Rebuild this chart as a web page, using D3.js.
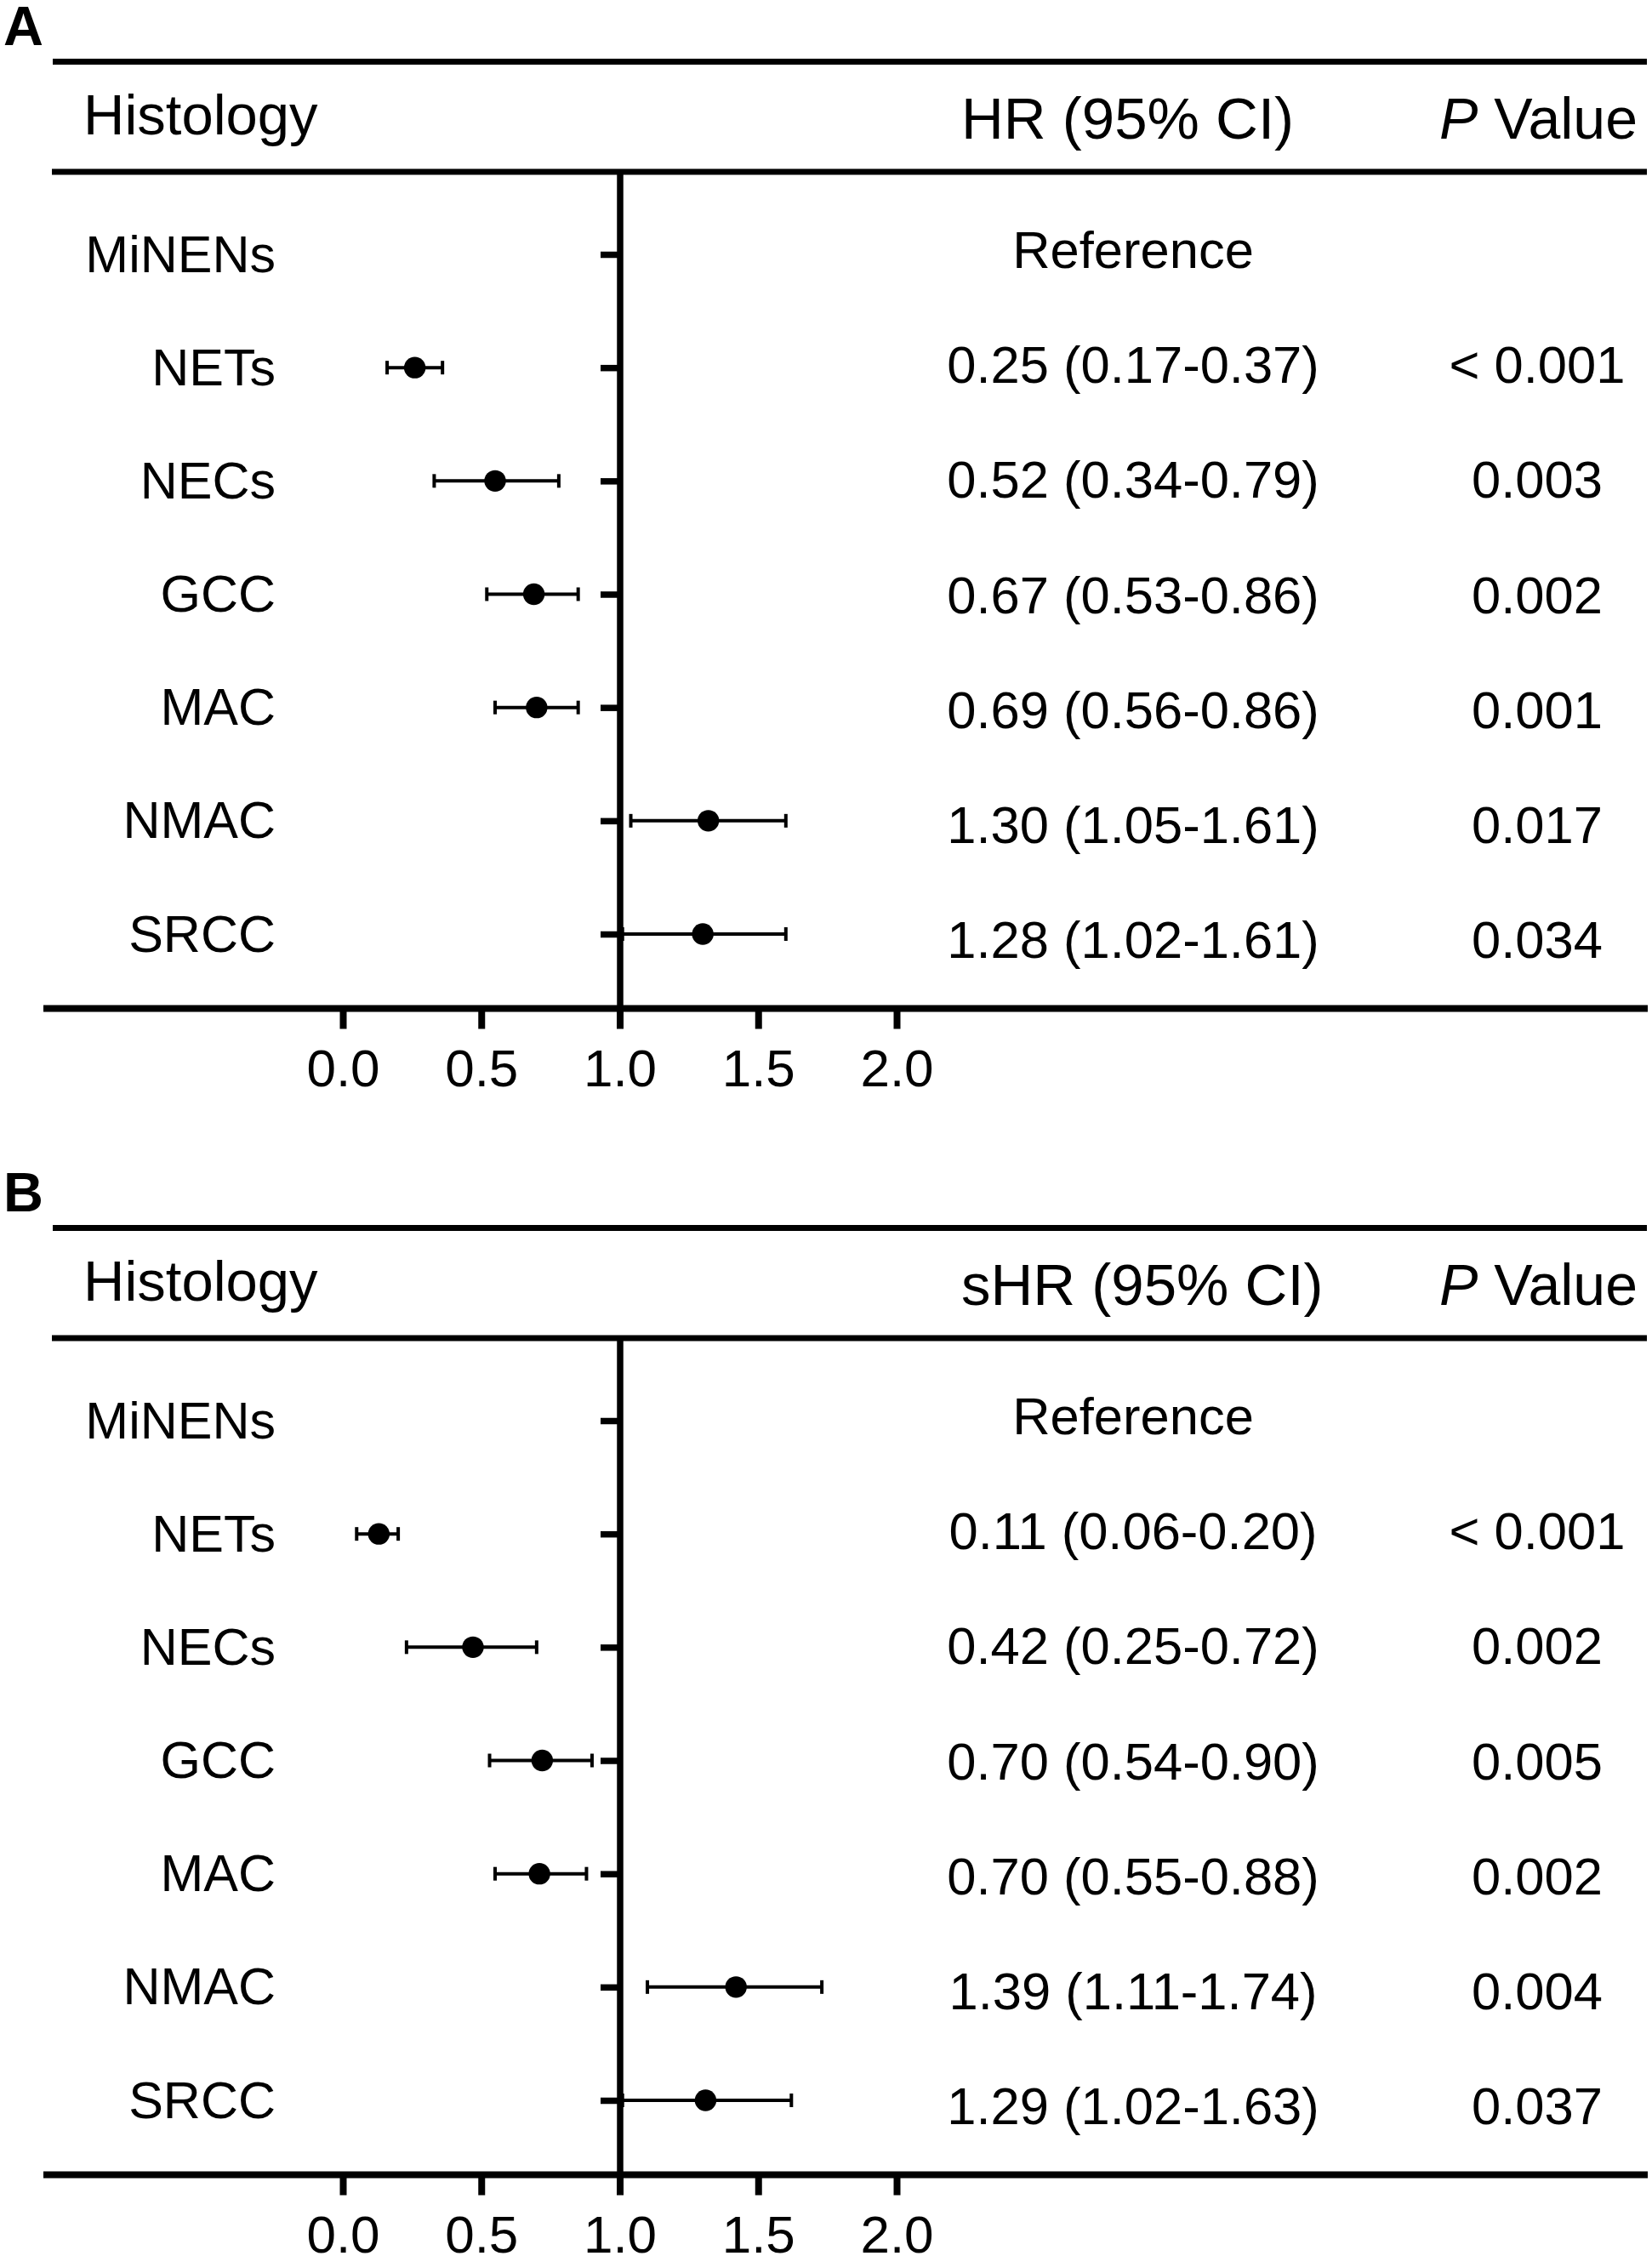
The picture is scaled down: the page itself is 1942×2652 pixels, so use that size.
<!DOCTYPE html>
<html lang="en">
	<head>
		<meta charset="utf-8">
		<title>Forest plot: histology HR and sHR</title>
		<script type="text/javascript" src="https://d3js.org/d3.v7.min.js"></script>
		<style type="text/css">
			body { margin: 0; background: #fff; }
			text { font-family: "Liberation Sans", Arial, Helvetica, sans-serif; fill: #000; }
		</style>
	</head>
	<body>
		<script type="text/javascript">

			//Row labels
			var categories = ["MiNENs", "NETs", "NECs", "GCC", "MAC", "NMAC", "SRCC"];

			//Panel A, plotted positions
			var hrA = [null, 0.26, 0.55, 0.69, 0.70, 1.32, 1.30];
			var loA = [null, 0.16, 0.33, 0.52, 0.55, 1.04, 1.01];
			var hiA = [null, 0.36, 0.78, 0.85, 0.85, 1.60, 1.60];
			var ciTextA = ["Reference", "0.25 (0.17-0.37)", "0.52 (0.34-0.79)", "0.67 (0.53-0.86)",
			               "0.69 (0.56-0.86)", "1.30 (1.05-1.61)", "1.28 (1.02-1.61)"];
			var pTextA = ["", "< 0.001", "0.003", "0.002", "0.001", "0.017", "0.034"];

			//Panel B
			var hrB = [null, 0.13, 0.47, 0.72, 0.71, 1.42, 1.31];
			var loB = [null, 0.05, 0.23, 0.53, 0.55, 1.10, 1.01];
			var hiB = [null, 0.20, 0.70, 0.90, 0.88, 1.73, 1.62];
			var ciTextB = ["Reference", "0.11 (0.06-0.20)", "0.42 (0.25-0.72)", "0.70 (0.54-0.90)",
			               "0.70 (0.55-0.88)", "1.39 (1.11-1.74)", "1.29 (1.02-1.63)"];
			var pTextB = ["", "< 0.001", "0.002", "0.005", "0.002", "0.004", "0.037"];

			//Axis ticks
			var xTicks = [0, 0.5, 1.0, 1.5, 2.0];

			//Width and height
			var w = 1942;
			var h = 2652;

			var svg = d3.select("body")
						.append("svg")
						.attr("width", w)
						.attr("height", h);

			//Shared scales (panel-local coordinates)
			var xScale = d3.scaleLinear()
				.domain([0, 2])
				.range([403, 1054]);

			var yScale = d3.scalePoint()
				.domain(categories)
				.range([299, 1098]);

			//Text columns sit on a slightly looser grid
			var yText = d3.scalePoint()
				.domain(categories)
				.range([315, 1126]);

			var axisX = 729;

			function drawPanel(offset, letter, hrLabel, hr, lo, hi, ciText, pText) {

				var g = svg.append("g")
					.attr("transform", "translate(0," + offset + ")");

				//Panel letter
				g.append("text")
					.attr("x", 4)
					.attr("y", 53)
					.style("font-size", "65px")
					.style("font-weight", "bold")
					.text(letter);

				//Header rules
				g.append("line")
					.attr("x1", 62).attr("x2", 1936)
					.attr("y1", 72.5).attr("y2", 72.5)
					.attr("stroke", "#000").attr("stroke-width", 7);

				g.append("line")
					.attr("x1", 61).attr("x2", 1936)
					.attr("y1", 202).attr("y2", 202)
					.attr("stroke", "#000").attr("stroke-width", 7);

				//Header texts
				g.append("text")
					.attr("x", 98).attr("y", 158)
					.style("font-size", "67px")
					.text("Histology");

				g.append("text")
					.attr("x", 1130).attr("y", 163)
					.style("font-size", "69px")
					.text(hrLabel);

				var pHead = g.append("text")
					.attr("x", 1925).attr("y", 163)
					.attr("text-anchor", "end")
					.style("font-size", "68px");
				pHead.append("tspan").style("font-style", "italic").text("P");
				pHead.append("tspan").text(" Value");

				//Vertical axis with row ticks and labels
				var yAxis = d3.axisLeft(yScale)
					.tickSize(23)
					.tickPadding(382);

				var yg = g.append("g")
					.attr("transform", "translate(" + axisX + ",0)")
					.call(yAxis);

				yg.select(".domain").remove();
				yg.selectAll(".tick line")
					.attr("stroke", "#000")
					.attr("stroke-width", 7.5);
				yg.selectAll(".tick text")
					.attr("dy", 20)
					.attr("fill", "#000")
					.style("font-size", "61px")
					.style("font-family", "'Liberation Sans', Arial, sans-serif");

				g.append("line")
					.attr("x1", axisX).attr("x2", axisX)
					.attr("y1", 202).attr("y2", 1186)
					.attr("stroke", "#000").attr("stroke-width", 7.5);

				//Bottom rule and x axis
				g.append("line")
					.attr("x1", 51).attr("x2", 1937)
					.attr("y1", 1185.5).attr("y2", 1185.5)
					.attr("stroke", "#000").attr("stroke-width", 8);

				var xAxis = d3.axisBottom(xScale)
					.tickValues(xTicks)
					.tickSize(24)
					.tickSizeOuter(0)
					.tickFormat(d3.format(".1f"));

				var xg = g.append("g")
					.attr("transform", "translate(0,1185.5)")
					.call(xAxis);

				xg.select(".domain").remove();
				xg.selectAll(".tick line")
					.attr("stroke", "#000")
					.attr("stroke-width", 8);
				xg.selectAll(".tick text")
					.attr("y", 91.5)
					.attr("dy", 0)
					.attr("fill", "#000")
					.style("font-size", "62px")
					.style("font-family", "'Liberation Sans', Arial, sans-serif");

				//Error bars + points
				var rows = categories.map(function(c, i) {
					return { cat: c, hr: hr[i], lo: lo[i], hi: hi[i] };
				}).filter(function(d) { return d.hr !== null; });

				var marks = g.selectAll("g.row")
					.data(rows)
					.enter()
					.append("g")
					.attr("class", "row");

				marks.append("line")
					.attr("x1", function(d) { return xScale(d.lo); })
					.attr("x2", function(d) { return xScale(d.hi); })
					.attr("y1", function(d) { return yScale(d.cat); })
					.attr("y2", function(d) { return yScale(d.cat); })
					.attr("stroke", "#000")
					.attr("stroke-width", 4);

				// caps at both ends
				marks.selectAll("line.cap")
					.data(function(d) { return [[d.lo, d.cat], [d.hi, d.cat]]; })
					.enter()
					.append("line")
					.attr("class", "cap")
					.attr("x1", function(d) { return xScale(d[0]); })
					.attr("x2", function(d) { return xScale(d[0]); })
					.attr("y1", function(d) { return yScale(d[1]) - 8; })
					.attr("y2", function(d) { return yScale(d[1]) + 8; })
					.attr("stroke", "#000")
					.attr("stroke-width", 4);

				marks.append("circle")
					.attr("cx", function(d) { return xScale(d.hr); })
					.attr("cy", function(d) { return yScale(d.cat); })
					.attr("r", 12.7)
					.attr("fill", "#000");

				//Right-hand text columns
				g.selectAll("text.ci")
					.data(categories)
					.enter()
					.append("text")
					.attr("class", "ci")
					.attr("x", 1332)
					.attr("y", function(d) { return yText(d); })
					.attr("text-anchor", "middle")
					.style("font-size", "61.5px")
					.text(function(d, i) { return ciText[i]; });

				g.selectAll("text.pv")
					.data(categories)
					.enter()
					.append("text")
					.attr("class", "pv")
					.attr("x", 1807)
					.attr("y", function(d) { return yText(d); })
					.attr("text-anchor", "middle")
					.style("font-size", "61.5px")
					.text(function(d, i) { return pText[i]; });
			}

			drawPanel(0, "A", "HR (95% CI)", hrA, loA, hiA, ciTextA, pTextA);
			drawPanel(1371, "B", "sHR (95% CI)", hrB, loB, hiB, ciTextB, pTextB);

		</script>
	</body>
</html>
